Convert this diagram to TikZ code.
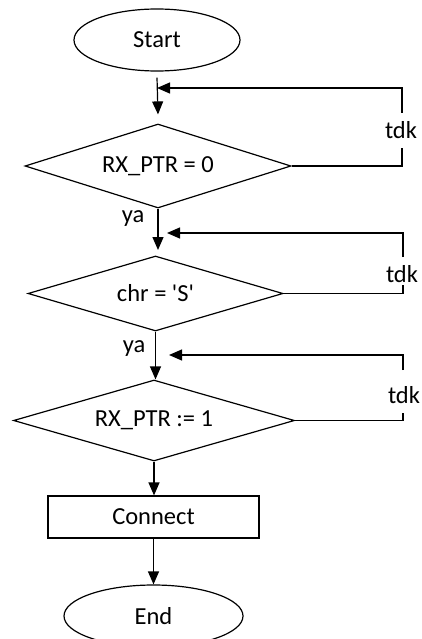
\documentclass[tikz,border=0pt]{standalone}
\usepackage{fontspec}
\setmainfont{Carlito}
\usetikzlibrary{shapes.geometric,arrows.meta}

\begin{document}
\begin{tikzpicture}[x=1pt,y=-1pt,
  line width=1.2pt,
  every node/.style={font=\fontsize{24.5}{28}\selectfont},
  terminal/.style={draw,ellipse,inner sep=0pt,minimum width=#1,minimum height=62pt},
  decision/.style={draw,diamond,inner sep=0pt,shape aspect=3.3,minimum width=#1},
  process/.style={draw,rectangle,inner sep=0pt,minimum width=211pt,minimum height=42pt},
  lbl/.style={inner sep=0pt},
  arr/.style={-{Triangle[length=13pt,width=11pt]}}]

\useasboundingbox[fill=white] (0,0) rectangle (422,639);

% shapes of the flow
\node[terminal=166pt] (start) at (157,40) {Start};
\node[decision=266pt,minimum height=84pt] (d1) at (158,166) {RX\_PTR = 0};
\node[decision=255pt,minimum height=75pt] (d2) at (155.5,293.5) {chr = \textquotesingle S\textquotesingle};
\node[decision=281pt,minimum height=81pt] (d3) at (154,420.5) {RX\_PTR := 1};
\node[process] (conn) at (153.5,517) {Connect};
\node[terminal=179pt] (end) at (153.5,616) {End};

% branch labels
\node[lbl] (ya1) at (133,219) {ya};
\node[lbl] (ya2) at (134,349) {ya};
\node[lbl] (tdk1) at (401,130) {tdk};
\node[lbl] (tdk2) at (402,274) {tdk};
\node[lbl] (tdk3) at (404,395) {tdk};

% loop-back points
\coordinate (m1) at (157,88);
\coordinate (k1a) at (402,166);
\coordinate (k1b) at (402,148);
\coordinate (k1c) at (402,113);
\coordinate (k1d) at (402,88);

\coordinate (m2) at (167,233);
\coordinate (k2a) at (403,293.5);
\coordinate (k2b) at (403,285);
\coordinate (k2c) at (403,257);
\coordinate (k2d) at (403,233);

\coordinate (m3) at (169,355);
\coordinate (k3a) at (403,420.5);
\coordinate (k3b) at (403,413);
\coordinate (k3c) at (403,370);
\coordinate (k3d) at (403,355);

% main flow
\draw[arr] ([yshift=-6pt]start.south) -- ([yshift=9pt]d1.north);
\draw[arr] (d1.south) -- (158,250);
\draw[arr] (d2.south) -- (d2.south |- d3.north);
\draw[arr] (d3.south) -- (d3.south |- conn.north);
\draw[arr] (conn.south) -- (end.north);

% "tdk" loops
\draw (d1.east) -- (k1a) -- (k1b);
\draw[arr] (k1c) -- (k1d) -- (m1);
\draw (d2.east) -- (k2a) -- (k2b);
\draw[arr] (k2c) -- (k2d) -- (m2);
\draw (d3.east) -- (k3a) -- (k3b);
\draw[arr] (k3c) -- (k3d) -- (m3);
\end{tikzpicture}
\end{document}
